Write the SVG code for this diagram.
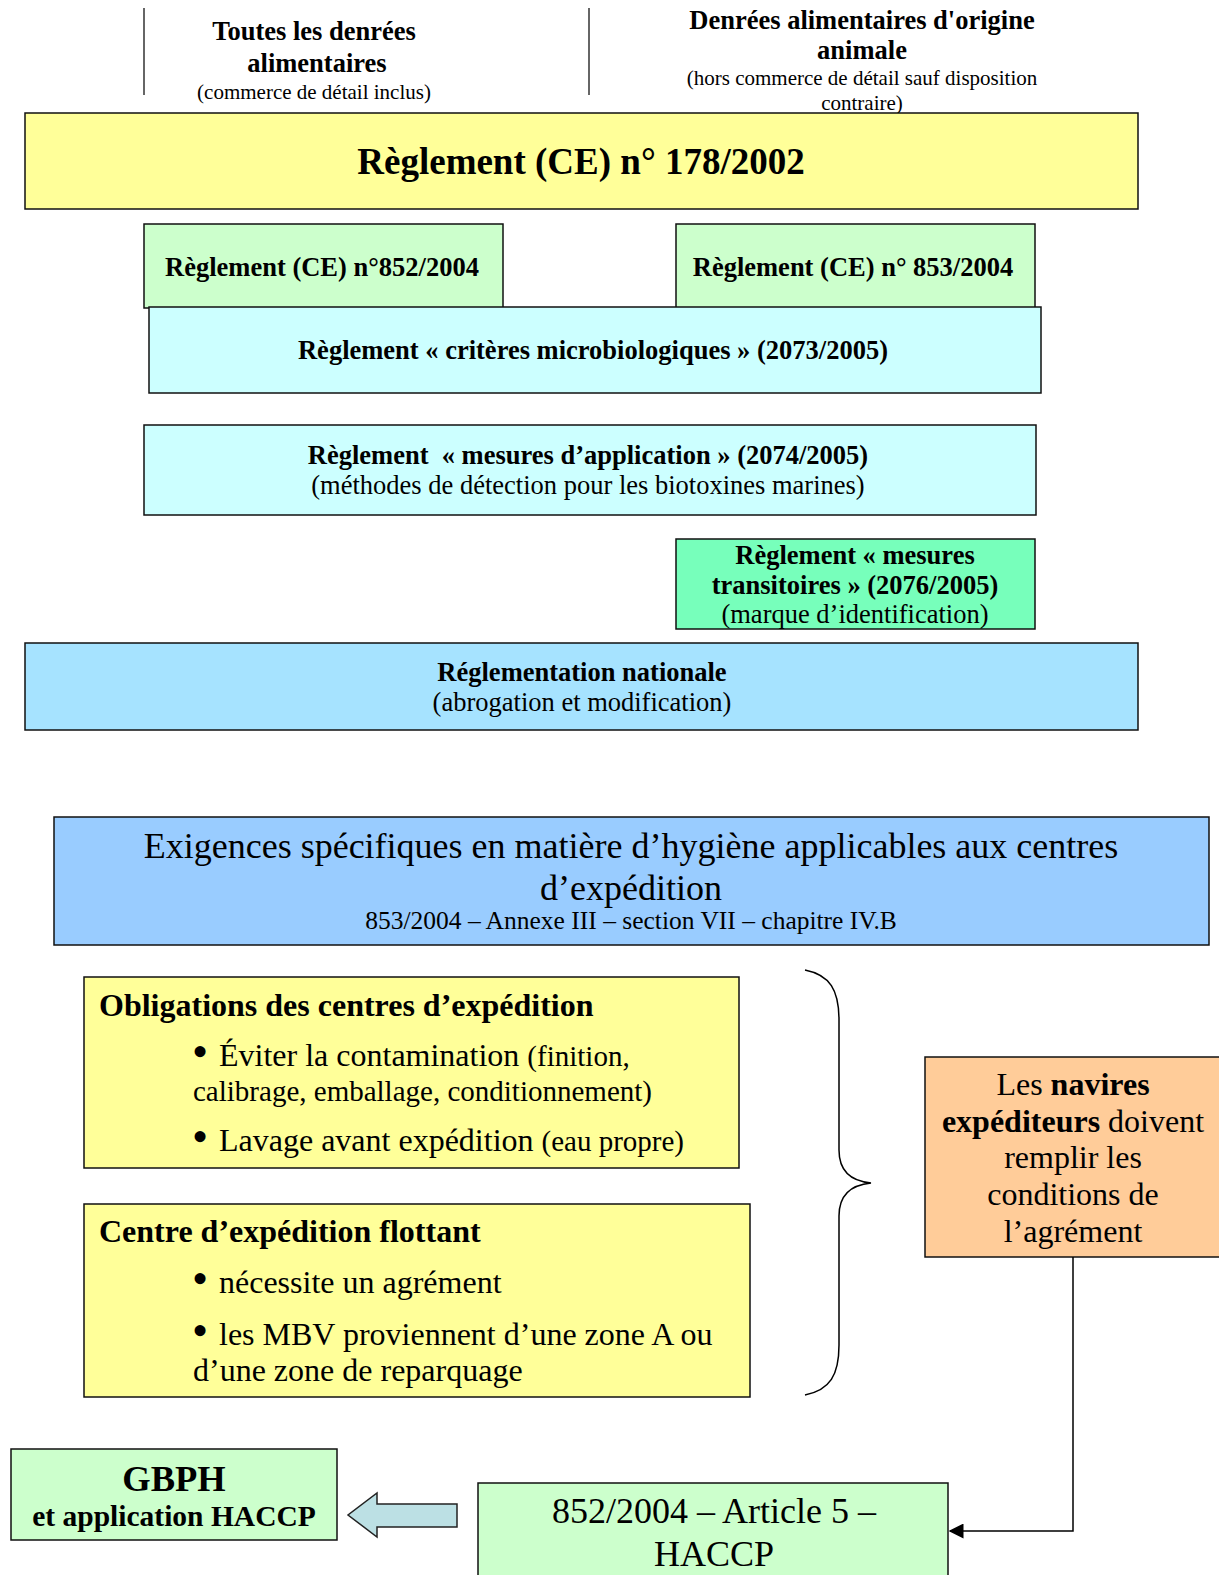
<svg xmlns="http://www.w3.org/2000/svg" width="1219" height="1575" viewBox="0 0 1219 1575">
<defs>
<style>
text{font-family:"Liberation Serif","Times New Roman",serif;fill:#000;}
.c{text-anchor:middle;}
.b{font-weight:bold;}
.box{stroke:#111;stroke-width:1.5;}
.line{stroke:#000;stroke-width:1.5;fill:none;}
.bul{font-size:46px;}
</style>
<marker id="ah" viewBox="0 0 10 10" refX="9" refY="5" markerWidth="15" markerHeight="15" orient="auto" markerUnits="userSpaceOnUse">
<path d="M0,0 L10,5 L0,10 z" fill="#000"/>
</marker>
</defs>
<rect width="1219" height="1575" fill="#fff"/>

<g id="headers">
<line x1="144" y1="8" x2="144" y2="95" stroke="#333" stroke-width="1.5"/>
<line x1="589" y1="8" x2="589" y2="95" stroke="#333" stroke-width="1.5"/>
<text class="c b" x="314" y="40" font-size="26.5">Toutes les denrées</text>
<text class="c b" x="317" y="72" font-size="26.5">alimentaires</text>
<text class="c" x="314" y="99" font-size="21">(commerce de détail inclus)</text>
<text class="c b" x="862" y="29" font-size="26.5">Denrées alimentaires d'origine</text>
<text class="c b" x="862" y="59" font-size="26.5">animale</text>
<text class="c" x="862" y="85" font-size="21">(hors commerce de détail sauf disposition</text>
<text class="c" x="862" y="110" font-size="21">contraire)</text>
</g>

<g id="n178">
<rect class="box" x="25" y="113" width="1113" height="96" fill="#FFFF99"/>
<text class="c b" x="581" y="174" font-size="37">Règlement (CE) n° 178/2002</text>
</g>

<g id="n852">
<rect class="box" x="144" y="224" width="359" height="84" fill="#CCFFCC"/>
<text class="c b" x="322" y="276" font-size="26.5">Règlement (CE) n°852/2004</text>
</g>

<g id="n853">
<rect class="box" x="676" y="224" width="359" height="84" fill="#CCFFCC"/>
<text class="c b" x="853" y="276" font-size="26.5">Règlement (CE) n° 853/2004</text>
</g>

<g id="n2073">
<rect class="box" x="149" y="307" width="892" height="86" fill="#CCFFFF"/>
<text class="c b" x="593" y="359" font-size="26.5">Règlement « critères microbiologiques » (2073/2005)</text>
</g>

<g id="n2074">
<rect class="box" x="144" y="425" width="892" height="90" fill="#CCFFFF"/>
<text class="c b" x="588" y="464" font-size="26.5" xml:space="preserve">Règlement  « mesures d’application » (2074/2005)</text>
<text class="c" x="588" y="494" font-size="26.5">(méthodes de détection pour les biotoxines marines)</text>
</g>

<g id="n2076">
<rect class="box" x="676" y="539" width="359" height="90" fill="#77FFBB"/>
<text class="c b" x="855" y="564" font-size="26.5">Règlement « mesures</text>
<text class="c b" x="855" y="594" font-size="26.5">transitoires » (2076/2005)</text>
<text class="c" x="855" y="623" font-size="26.5">(marque d’identification)</text>
</g>

<g id="nationale">
<rect class="box" x="25" y="643" width="1113" height="87" fill="#A6E3FF"/>
<text class="c b" x="582" y="681" font-size="26.5">Réglementation nationale</text>
<text class="c" x="582" y="711" font-size="26.5">(abrogation et modification)</text>
</g>

<g id="exigences">
<rect class="box" x="54" y="817" width="1155" height="128" fill="#99CCFF"/>
<text class="c" x="631" y="858" font-size="36">Exigences spécifiques en matière d’hygiène applicables aux centres</text>
<text class="c" x="631" y="900" font-size="36">d’expédition</text>
<text class="c" x="631" y="929" font-size="25.5">853/2004 – Annexe III – section VII – chapitre IV.B</text>
</g>

<g id="obligations">
<rect class="box" x="84" y="977" width="655" height="191" fill="#FFFF99"/>
<text class="b" x="99" y="1016" font-size="32">Obligations des centres d’expédition</text>
<text class="bul" x="192" y="1067">•</text>
<text x="219" y="1066" font-size="32">Éviter la contamination <tspan font-size="29">(finition,</tspan></text>
<text x="193" y="1101" font-size="29">calibrage, emballage, conditionnement)</text>
<text class="bul" x="192" y="1152">•</text>
<text x="219" y="1151" font-size="32">Lavage avant expédition <tspan font-size="29">(eau propre)</tspan></text>
</g>

<g id="flottant">
<rect class="box" x="84" y="1204" width="666" height="193" fill="#FFFF99"/>
<text class="b" x="99" y="1242" font-size="32">Centre d’expédition flottant</text>
<text class="bul" x="192" y="1294">•</text>
<text x="219" y="1293" font-size="32">nécessite un agrément</text>
<text class="bul" x="192" y="1346">•</text>
<text x="219" y="1345" font-size="32">les MBV proviennent d’une zone A ou</text>
<text x="193" y="1381" font-size="32">d’une zone de reparquage</text>
</g>

<g id="brace">
<path class="line" d="M805,970 C830,975 839,990 839,1020 L839,1150 C839,1170 850,1181 871,1183 C850,1185 839,1196 839,1216 L839,1345 C839,1375 830,1390 805,1395"/>
</g>

<g id="navires">
<rect class="box" x="925" y="1057" width="300" height="200" fill="#FFCC99"/>
<text class="c" x="1073" y="1095" font-size="32">Les <tspan class="b">navires</tspan></text>
<text class="c" x="1073" y="1132" font-size="32"><tspan class="b">expéditeurs</tspan> doivent</text>
<text class="c" x="1073" y="1168" font-size="32">remplir les</text>
<text class="c" x="1073" y="1205" font-size="32">conditions de</text>
<text class="c" x="1073" y="1242" font-size="32">l’agrément</text>
</g>

<g id="gbph">
<rect class="box" x="11" y="1449" width="326" height="91" fill="#CCFFCC"/>
<text class="c b" x="174" y="1491" font-size="36.5">GBPH</text>
<text class="c b" x="174" y="1526" font-size="29.5">et application HACCP</text>
</g>

<g id="article5">
<rect class="box" x="478" y="1483" width="470" height="100" fill="#CCFFCC"/>
<text class="c" x="714" y="1523" font-size="36">852/2004 – Article 5 –</text>
<text class="c" x="714" y="1566" font-size="36">HACCP</text>
</g>

<g id="connectors">
<path class="line" d="M1073,1257 L1073,1531 L950,1531" marker-end="url(#ah)"/>
<path d="M457,1504 L377,1504 L377,1493 L348,1515 L377,1537 L377,1527 L457,1527 Z" fill="#BCE0E4" stroke="#222" stroke-width="1.5"/>
</g>
</svg>
